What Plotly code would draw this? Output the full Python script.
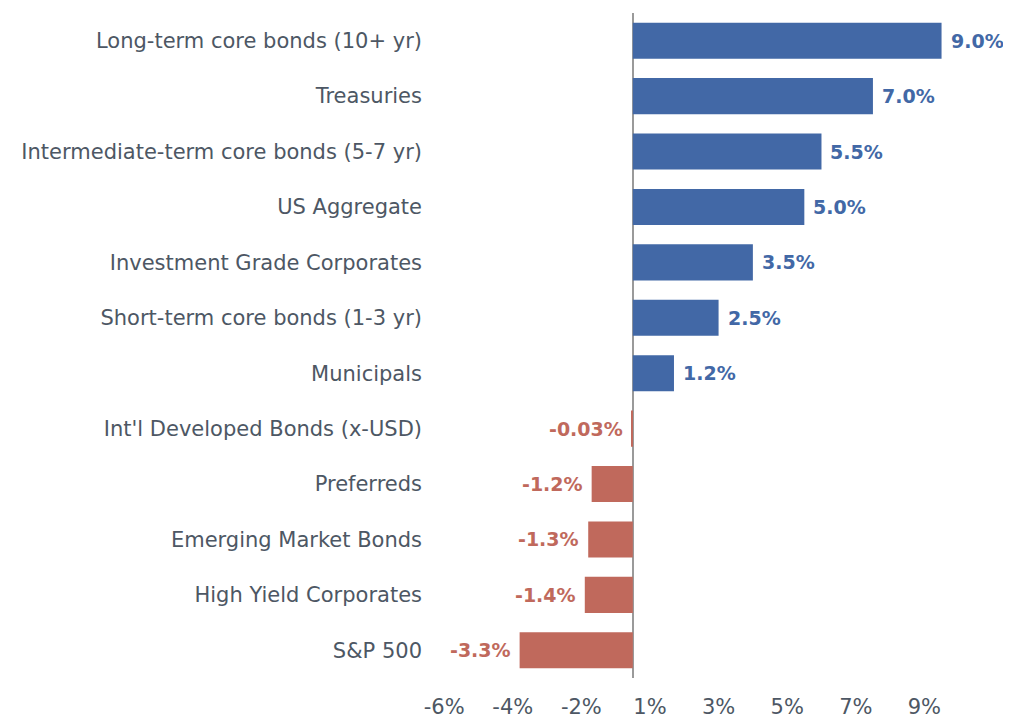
import plotly.graph_objects as go

categories = [
    "Long-term core bonds (10+ yr)",
    "Treasuries",
    "Intermediate-term core bonds (5-7 yr)",
    "US Aggregate",
    "Investment Grade Corporates",
    "Short-term core bonds (1-3 yr)",
    "Municipals",
    "Int'l Developed Bonds (x-USD)",
    "Preferreds",
    "Emerging Market Bonds",
    "High Yield Corporates",
    "S&P 500",
]
values = [9.0, 7.0, 5.5, 5.0, 3.5, 2.5, 1.2, -0.03, -1.2, -1.3, -1.4, -3.3]
value_labels = ["9.0%", "7.0%", "5.5%", "5.0%", "3.5%", "2.5%", "1.2%",
                "-0.03%", "-1.2%", "-1.3%", "-1.4%", "-3.3%"]
tick_vals = [-5.5, -3.5, -1.5, 0.5, 2.5, 4.5, 6.5, 8.5]
tick_text = ["-6%", "-4%", "-2%", "1%", "3%", "5%", "7%", "9%"]

BLUE = "#4268a6"
RED = "#c0695c"
colors = [BLUE if v >= 0 else RED for v in values]

FONT = "DejaVu Sans"
GRAY = "#4d5764"

fig = go.Figure()
fig.add_trace(go.Bar(
    y=categories,
    x=values,
    orientation="h",
    marker=dict(color=colors, line=dict(width=0)),
    hoverinfo="skip",
))

for c, v, t, col in zip(categories, values, value_labels, colors):
    fig.add_annotation(
        x=v, y=c, text="<b>%s</b>" % t, showarrow=False,
        xanchor="left" if v >= 0 else "right",
        xshift=7 if v >= 0 else -7,
        font=dict(family=FONT, size=19, color=col),
    )

fig.update_layout(
    width=1003, height=711,
    margin=dict(l=419, r=18, t=5, b=41),
    paper_bgcolor="white", plot_bgcolor="white",
    bargap=0.35,
    showlegend=False,
    font=dict(family=FONT, size=21, color=GRAY),
    xaxis=dict(
        range=[-6, 10.5],
        tickvals=tick_vals, ticktext=tick_text,
        showgrid=False, zeroline=True, zerolinecolor="#9a9a9a", zerolinewidth=2,
        showline=False, ticks="outside", ticklen=10, tickcolor="rgba(0,0,0,0)",
        tickfont=dict(family=FONT, size=21, color=GRAY),
        automargin=False,
        fixedrange=True,
    ),
    yaxis=dict(
        categoryorder="array", categoryarray=categories[::-1],
        showgrid=False, showline=False, zeroline=False,
        ticks="", ticklabelstandoff=4,
        tickfont=dict(family=FONT, size=21, color=GRAY),
        automargin=False,
        fixedrange=True,
    ),
)

fig.write_html("out.html")
